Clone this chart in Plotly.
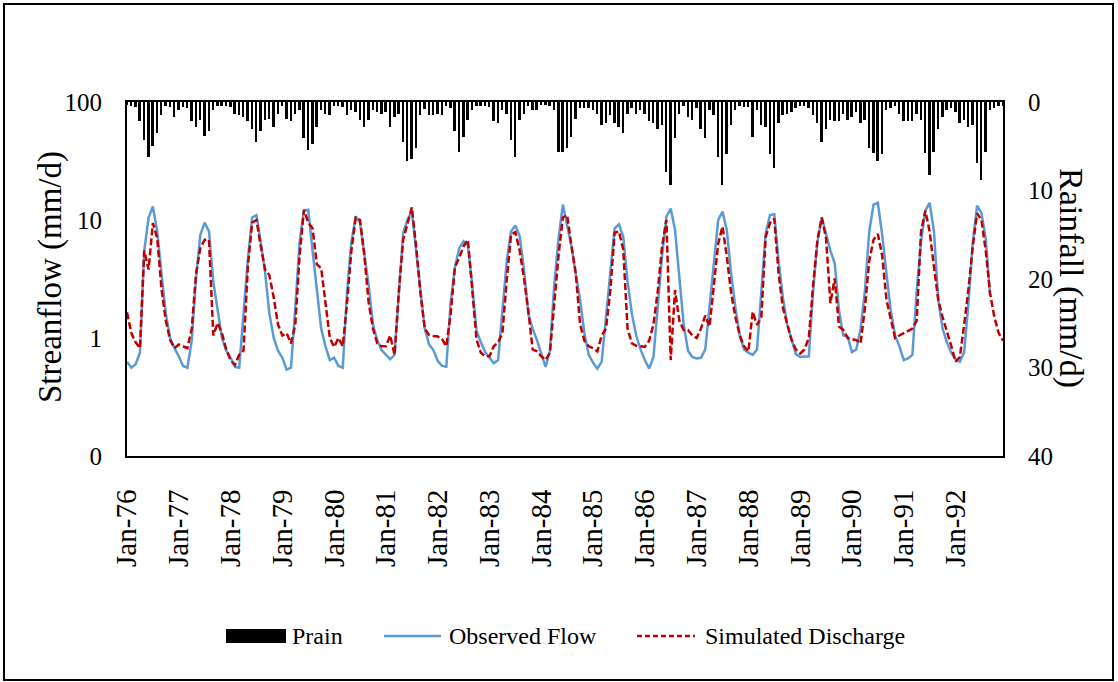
import plotly.graph_objects as go

# ---------------------------------------------------------------
# Monthly series, Jan-1976 .. Dec-1992 (one row per year)
# ---------------------------------------------------------------
years = list(range(1976, 1993))
month_names = ["Jan", "Feb", "Mar", "Apr", "May", "Jun",
               "Jul", "Aug", "Sep", "Oct", "Nov", "Dec"]

# rainfall, mm/d
prain = [
    0.3, 0.4, 0.6, 2.2, 4.3, 6.2, 5.0, 3.5, 1.5, 0.5, 0.6, 1.7,   # 1976
    0.9, 0.6, 0.7, 2.2, 2.8, 2.0, 3.8, 3.3, 0.9, 0.5, 0.4, 0.5,   # 1977
    0.6, 1.3, 1.5, 1.7, 2.2, 3.0, 4.5, 3.3, 2.0, 1.9, 2.8, 1.3,   # 1978
    0.5, 1.9, 2.2, 1.3, 0.9, 4.1, 5.4, 4.8, 2.8, 0.9, 1.3, 1.5,   # 1979
    0.4, 0.5, 0.6, 1.5, 0.9, 1.1, 2.0, 2.8, 2.0, 0.9, 1.1, 1.3,   # 1980
    1.1, 2.8, 1.7, 1.3, 4.5, 6.7, 6.4, 5.2, 1.5, 0.8, 1.5, 1.5,   # 1981
    1.3, 1.5, 0.5, 0.7, 3.3, 5.6, 3.9, 2.0, 0.9, 0.5, 0.5, 0.5,   # 1982
    0.6, 2.2, 2.4, 0.9, 1.3, 4.3, 6.2, 2.0, 1.3, 0.5, 0.9, 0.9,   # 1983
    0.3, 0.3, 0.5, 0.9, 5.6, 5.6, 5.2, 3.9, 1.9, 0.7, 0.7, 0.7,   # 1984
    0.9, 1.3, 2.6, 2.4, 1.5, 2.4, 2.8, 3.5, 1.3, 0.7, 1.3, 0.9,   # 1985
    1.3, 2.2, 2.4, 3.1, 2.6, 7.9, 9.4, 4.1, 1.3, 0.5, 1.7, 2.0,   # 1986
    0.7, 3.0, 4.1, 0.9, 1.5, 6.2, 9.4, 5.9, 2.6, 0.9, 0.5, 0.6,   # 1987
    0.6, 3.9, 0.9, 2.6, 2.8, 5.9, 7.5, 2.4, 1.5, 1.3, 1.1, 0.7,   # 1988
    0.4, 0.5, 0.7, 1.5, 2.4, 4.5, 3.0, 2.0, 2.2, 2.2, 1.3, 2.0,   # 1989
    1.7, 1.1, 2.4, 2.0, 5.2, 5.8, 6.7, 5.9, 0.9, 0.7, 0.5, 1.3,   # 1990
    2.2, 2.2, 2.2, 1.3, 2.0, 5.8, 8.2, 5.6, 3.1, 1.7, 0.9, 0.7,   # 1991
    1.1, 2.4, 2.0, 2.8, 2.6, 6.9, 8.8, 5.6, 0.9, 0.7, 0.4, 0.5,   # 1992
]

# observed streamflow, mm/d (record ends Sep-1992)
observed_flow = [
    0.63, 0.56, 0.60, 0.75, 5.5, 10.5, 13.0, 8.0, 3.5, 1.6, 1.0, 0.82,    # 1976
    0.70, 0.58, 0.56, 0.95, 3.2, 7.5, 9.5, 8.0, 3.0, 1.7, 1.0, 0.78,      # 1977
    0.68, 0.57, 0.56, 1.6, 4.6, 10.5, 11.0, 6.5, 3.6, 1.6, 1.0, 0.78,     # 1978
    0.68, 0.54, 0.56, 1.8, 6.5, 12.0, 12.2, 5.5, 2.5, 1.2, 0.85, 0.65,    # 1979
    0.68, 0.58, 0.56, 2.5, 6.5, 10.7, 9.5, 5.0, 2.8, 1.3, 0.95, 0.79,     # 1980
    0.72, 0.66, 0.72, 2.5, 7.8, 10.0, 12.0, 5.5, 2.5, 1.2, 0.88, 0.79,    # 1981
    0.64, 0.58, 0.57, 2.0, 4.0, 5.8, 6.6, 6.1, 2.8, 1.15, 0.92, 0.76,     # 1982
    0.68, 0.61, 0.65, 1.8, 4.5, 8.0, 9.0, 7.3, 3.8, 1.6, 1.2, 0.96,       # 1983
    0.75, 0.57, 0.78, 2.8, 7.0, 13.5, 9.0, 6.0, 3.5, 2.1, 1.1, 0.72,      # 1984
    0.62, 0.55, 0.63, 1.5, 4.0, 8.5, 9.2, 7.2, 3.0, 1.6, 1.05, 0.80,      # 1985
    0.65, 0.55, 0.69, 1.8, 5.0, 10.7, 12.5, 8.2, 3.0, 1.3, 0.78, 0.69,    # 1986
    0.67, 0.68, 0.80, 1.8, 4.5, 10.0, 11.8, 8.2, 3.5, 1.8, 1.05, 0.80,    # 1987
    0.75, 0.72, 0.80, 2.5, 7.7, 11.0, 11.2, 4.5, 2.2, 1.3, 0.98, 0.73,    # 1988
    0.69, 0.69, 0.70, 2.5, 6.5, 10.5, 7.5, 5.5, 4.3, 1.7, 1.05, 1.03,     # 1989
    0.76, 0.80, 1.2, 2.5, 8.0, 13.5, 14.0, 7.5, 3.5, 1.7, 1.05, 0.85,     # 1990
    0.65, 0.67, 0.72, 2.5, 6.5, 12.0, 14.0, 8.0, 2.1, 1.2, 0.92, 0.75,    # 1991
    0.66, 0.63, 0.76, 2.0, 6.5, 13.2, 11.5, 7.0, 2.3, None, None, None,   # 1992
]

# simulated discharge, mm/d
simulated_discharge = [
    1.65, 1.1, 0.92, 0.82, 5.5, 3.8, 9.4, 7.0, 2.6, 1.4, 0.96, 0.82,      # 1976
    0.88, 0.85, 0.82, 1.2, 3.5, 5.8, 6.8, 6.8, 1.05, 1.34, 1.1, 0.80,     # 1977
    0.65, 0.59, 0.72, 0.78, 4.0, 9.5, 10.0, 6.0, 3.8, 3.4, 2.2, 1.3,      # 1978
    1.05, 1.1, 0.90, 1.3, 5.0, 12.2, 9.5, 8.5, 4.2, 3.9, 2.0, 1.0,        # 1979
    0.84, 1.0, 0.85, 2.0, 5.5, 10.5, 10.0, 5.0, 2.0, 1.2, 0.90, 0.85,     # 1980
    0.85, 1.05, 0.72, 2.5, 6.8, 9.5, 12.8, 6.0, 2.4, 1.2, 1.06, 1.04,     # 1981
    1.03, 0.98, 0.85, 1.6, 4.0, 4.8, 6.0, 6.8, 2.4, 0.97, 0.75, 0.70,     # 1982
    0.70, 0.85, 0.92, 1.1, 3.1, 7.5, 7.9, 5.5, 3.2, 1.7, 0.80, 0.77,      # 1983
    0.70, 0.65, 0.75, 2.0, 5.0, 10.5, 11.0, 6.0, 3.5, 1.3, 0.95, 0.85,    # 1984
    0.82, 0.77, 1.05, 1.2, 2.5, 7.8, 8.0, 5.6, 1.2, 0.90, 0.86, 0.85,     # 1985
    0.84, 0.95, 1.3, 2.5, 6.0, 10.0, 0.65, 2.55, 1.4, 1.17, 1.17, 1.05,   # 1986
    1.0, 1.2, 1.55, 1.25, 3.0, 6.3, 8.8, 4.9, 2.4, 1.5, 1.05, 0.85,       # 1987
    0.77, 1.67, 1.29, 1.5, 7.2, 9.4, 10.3, 3.5, 1.8, 1.3, 0.96, 0.80,     # 1988
    0.74, 0.80, 1.0, 2.8, 6.8, 10.5, 7.0, 1.97, 3.2, 1.25, 1.17, 1.0,     # 1989
    0.98, 0.96, 0.90, 1.8, 4.5, 6.8, 7.6, 5.0, 2.1, 1.4, 1.0, 1.05,       # 1990
    1.1, 1.15, 1.2, 1.4, 8.0, 12.0, 8.0, 4.0, 2.1, 1.5, 1.15, 0.86,       # 1991
    0.63, 0.69, 1.3, 2.6, 6.0, 11.4, 10.0, 5.5, 2.4, 1.5, 1.1, 0.95,      # 1992
]

# category labels and yearly tick labels
months = [f"{m}-{str(y)[2:]}" for y in years for m in month_names]
month_idx = list(range(len(months)))
tick_idx = month_idx[::12]
tick_text = [months[i] for i in tick_idx]

flow_tickvals = [0.1, 1, 10, 100]
flow_ticktext = ["0", "1", "10", "100"]
rain_tickvals = [0, 10, 20, 30, 40]

SERIF = "Liberation Serif"
BLUE = "#5B9BD5"
RED = "#C00000"

# plot-area geometry in pixels (used for paper-coordinate helpers)
W, H = 1118, 682
L, R, T, B = 127, 115, 102, 226
PW, PH = W - L - R, H - T - B


def px(xp):
    return (xp - L) / PW


def py(yp):
    return (H - B - yp) / PH


fig = go.Figure()

# rainfall bars hang from the top on the (reversed) right axis
fig.add_trace(go.Bar(
    x=month_idx, y=prain, yaxis="y", name="Prain",
    marker=dict(color="black", line=dict(width=0)),
    width=0.45, showlegend=False,
))

fig.add_trace(go.Scatter(
    x=month_idx, y=observed_flow, yaxis="y2", name="Observed Flow",
    mode="lines", line=dict(color=BLUE, width=2.5),
    connectgaps=False, showlegend=False,
))

fig.add_trace(go.Scatter(
    x=month_idx, y=simulated_discharge, yaxis="y2", name="Simulated Discharge",
    mode="lines", line=dict(color=RED, width=2.5, dash="7px,3px"),
    showlegend=False,
))

fig.update_layout(
    width=W, height=H,
    margin=dict(l=L, r=R, t=T, b=B, pad=0),
    paper_bgcolor="white", plot_bgcolor="white",
    font=dict(family=SERIF, color="black", size=24),
    bargap=0,
    xaxis=dict(
        range=[0, len(months) - 1],
        tickmode="array", tickvals=tick_idx, ticktext=tick_text,
        tickangle=-90, tickfont=dict(family=SERIF, size=29),
        ticks="", ticklabelstandoff=20,
        showgrid=False, zeroline=False,
        showline=True, linecolor="black", linewidth=2, mirror=True,
    ),
    yaxis=dict(
        side="right", range=[40, 0], autorange=False,
        tickmode="array", tickvals=rain_tickvals,
        tickfont=dict(family=SERIF, size=25),
        ticks="", ticklabelstandoff=18,
        showgrid=False, zeroline=False,
        showline=True, linecolor="black", linewidth=2,
    ),
    yaxis2=dict(
        overlaying="y", side="left", type="log", range=[-1, 2],
        tickmode="array", tickvals=flow_tickvals, ticktext=flow_ticktext,
        tickfont=dict(family=SERIF, size=25),
        ticks="", ticklabelstandoff=18,
        showgrid=False, zeroline=False,
        showline=True, linecolor="black", linewidth=2,
    ),
)

# axis titles
fig.add_annotation(
    text="Streanflow (mm/d)", xref="paper", yref="paper",
    x=px(50), y=py(277), xanchor="center", yanchor="middle",
    textangle=-90, showarrow=False,
    font=dict(family=SERIF, size=33),
)
fig.add_annotation(
    text="Rainfall (mm/d)", xref="paper", yref="paper",
    x=px(1071), y=py(278), xanchor="center", yanchor="middle",
    textangle=90, showarrow=False,
    font=dict(family=SERIF, size=34),
)

# legend row
leg_y = 636
fig.add_shape(type="rect", xref="paper", yref="paper",
              x0=px(226), x1=px(286), y0=py(643), y1=py(629),
              fillcolor="black", line=dict(width=0))
fig.add_annotation(text="Prain", xref="paper", yref="paper",
                   x=px(290), y=py(leg_y), xanchor="left", yanchor="middle",
                   showarrow=False, font=dict(family=SERIF, size=24))
fig.add_shape(type="line", xref="paper", yref="paper",
              x0=px(384), x1=px(441), y0=py(leg_y), y1=py(leg_y),
              line=dict(color=BLUE, width=2.5))
fig.add_annotation(text="Observed Flow", xref="paper", yref="paper",
                   x=px(447), y=py(leg_y), xanchor="left", yanchor="middle",
                   showarrow=False, font=dict(family=SERIF, size=24))
fig.add_shape(type="line", xref="paper", yref="paper",
              x0=px(637), x1=px(695), y0=py(leg_y), y1=py(leg_y),
              line=dict(color=RED, width=2.5, dash="5px,3px"))
fig.add_annotation(text="Simulated Discharge", xref="paper", yref="paper",
                   x=px(703), y=py(leg_y), xanchor="left", yanchor="middle",
                   showarrow=False, font=dict(family=SERIF, size=24))

# outer frame around the whole chart
fig.add_shape(type="rect", xref="paper", yref="paper",
              x0=px(4), x1=px(1113), y0=py(680), y1=py(4),
              line=dict(color="black", width=2), fillcolor="rgba(0,0,0,0)",
              layer="below")

fig.write_html("out.html")
